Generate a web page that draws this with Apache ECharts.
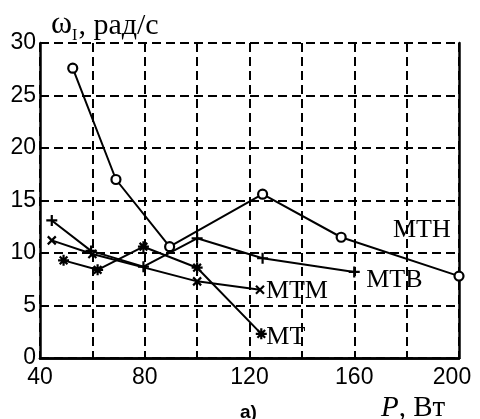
<!DOCTYPE html>
<html><head><meta charset="utf-8">
<script src="https://cdn.jsdelivr.net/npm/echarts@6/dist/echarts.min.js"></script>
<style>html,body{margin:0;padding:0;background:#fff}#c{width:480px;height:419px}</style>
</head><body><div id="c"></div>
<script>
var xTicks = [40, 80, 120, 160, 200];
var yTicks = [0, 5, 10, 15, 20, 25, 30];
var seriesNames = ['МТН', 'МТВ', 'МТМ', 'МТ'];
var mthData = [[52.5, 27.6], [69, 17.0], [89.5, 10.6], [125, 15.6], [155, 11.5], [200, 7.8]];
var mtbData = [[44.5, 13.1], [59.5, 10.2], [79.5, 8.7], [100, 11.4], [125, 9.5], [160, 8.2]];
var mtmData = [[44.5, 11.2], [60, 9.9], [100, 7.3], [124, 6.5]];
var mtData = [[49, 9.3], [62, 8.4], [79.5, 10.6], [100, 8.6], [124.5, 2.3]];

var PLUS = 'path://M0,5L10,5M5,0L5,10';
var CROSS = 'path://M0,0L10,10M10,0L0,10';
var STAR = 'path://M0,5L10,5M5,0L5,10M1.5,1.5L8.5,8.5M8.5,1.5L1.5,8.5';
var SERIF = '"Liberation Serif","DejaVu Serif",serif';
var SANS = '"Liberation Sans",Arial,sans-serif';

function withEndLabel(data, name, off) {
  return data.map(function (d, i) {
    if (i !== data.length - 1) return d;
    return {
      value: d,
      label: {
        show: true, position: 'inside', align: 'left', verticalAlign: 'middle',
        offset: off, formatter: name,
        fontFamily: SERIF, fontSize: 26, color: '#000'
      }
    };
  });
}

function mkSeries(name, data, symbol, size, off) {
  return {
    name: name, type: 'line', data: withEndLabel(data, name, off),
    symbol: symbol, symbolSize: size, showAllSymbol: true,
    lineStyle: { color: '#000', width: 2 },
    itemStyle: { color: symbol === 'circle' ? '#fff' : '#000', borderColor: '#000', borderWidth: 2.2 },
    label: { show: false },
    emphasis: { disabled: true }, animation: false, z: 5
  };
}

var chart = echarts.init(document.getElementById('c'), null, { renderer: 'canvas' });
chart.setOption({
  backgroundColor: '#fff',
  animation: false,
  title: [{
    left: 46, top: 4,
    text: '{w|ω}{s|I}{t|, рад/с}',
    textStyle: {
      fontWeight: 'normal',
      rich: {
        w: { fontFamily: SERIF, fontWeight: 'normal', fontSize: 32, color: '#000', lineHeight: 32, verticalAlign: 'bottom' },
        s: { fontFamily: SERIF, fontWeight: 'normal', fontSize: 16, color: '#000', lineHeight: 32, verticalAlign: 'bottom', padding: [0, 1, -3, 0] },
        t: { fontFamily: SERIF, fontWeight: 'normal', fontSize: 30, color: '#000', lineHeight: 32, verticalAlign: 'bottom' }
      }
    }
  }, {
    left: 376, top: 389,
    text: '{p|P}{t|, Вт}',
    textStyle: {
      fontWeight: 'normal',
      rich: {
        p: { fontFamily: SERIF, fontWeight: 'normal', fontStyle: 'italic', fontSize: 29, color: '#000' },
        t: { fontFamily: SERIF, fontWeight: 'normal', fontSize: 29, color: '#000' }
      }
    }
  }, {
    left: 235, top: 398,
    text: 'а)',
    textStyle: { fontFamily: SANS, fontWeight: 'bold', fontSize: 19, color: '#000' }
  }],
  grid: { left: 40, right: 21, top: 43, bottom: 61, containLabel: false },
  xAxis: [{
    type: 'value', min: 40, max: 200, interval: 20,
    axisLine: { show: true, lineStyle: { color: '#000', width: 2.5 } },
    axisTick: { show: false },
    axisLabel: {
      color: '#000', fontFamily: SANS, fontSize: 23, margin: 8, showMaxLabel: true,
      formatter: function (v) {
        if (xTicks.indexOf(v) < 0) return '';
        return v === 200 ? '{r|' + v + '}' : String(v);
      },
      rich: { r: { fontFamily: SANS, fontSize: 23, color: '#000', padding: [0, 14, 0, 0] } }
    },
    splitLine: { show: true, lineStyle: { color: '#000', width: 2, type: [9, 5] } }
  }, {
    type: 'value', min: 40, max: 200, position: 'top',
    axisLine: { show: true, lineStyle: { color: '#000', width: 2.5 } },
    axisTick: { show: false }, axisLabel: { show: false }, splitLine: { show: false }
  }],
  yAxis: [{
    type: 'value', min: 0, max: 30, interval: 5,
    axisLine: { show: true, lineStyle: { color: '#000', width: 2.5 } },
    axisTick: { show: false },
    axisLabel: {
      color: '#000', fontFamily: SANS, fontSize: 23, margin: 4,
      formatter: function (v) { return yTicks.indexOf(v) >= 0 ? String(v) : ''; }
    },
    splitLine: { show: true, lineStyle: { color: '#000', width: 2, type: [9, 5] } }
  }, {
    type: 'value', min: 0, max: 30, position: 'right',
    axisLine: { show: true, lineStyle: { color: '#000', width: 2.5 } },
    axisTick: { show: false }, axisLabel: { show: false }, splitLine: { show: false }
  }],
  series: [
    mkSeries(seriesNames[0], mthData, 'circle', 9, [-66, -46]),
    mkSeries(seriesNames[1], mtbData, PLUS, 11, [12, 8]),
    mkSeries(seriesNames[2], mtmData, CROSS, 8, [6, 1]),
    mkSeries(seriesNames[3], mtData, STAR, 11, [5, 3])
  ]
});
</script></body></html>
